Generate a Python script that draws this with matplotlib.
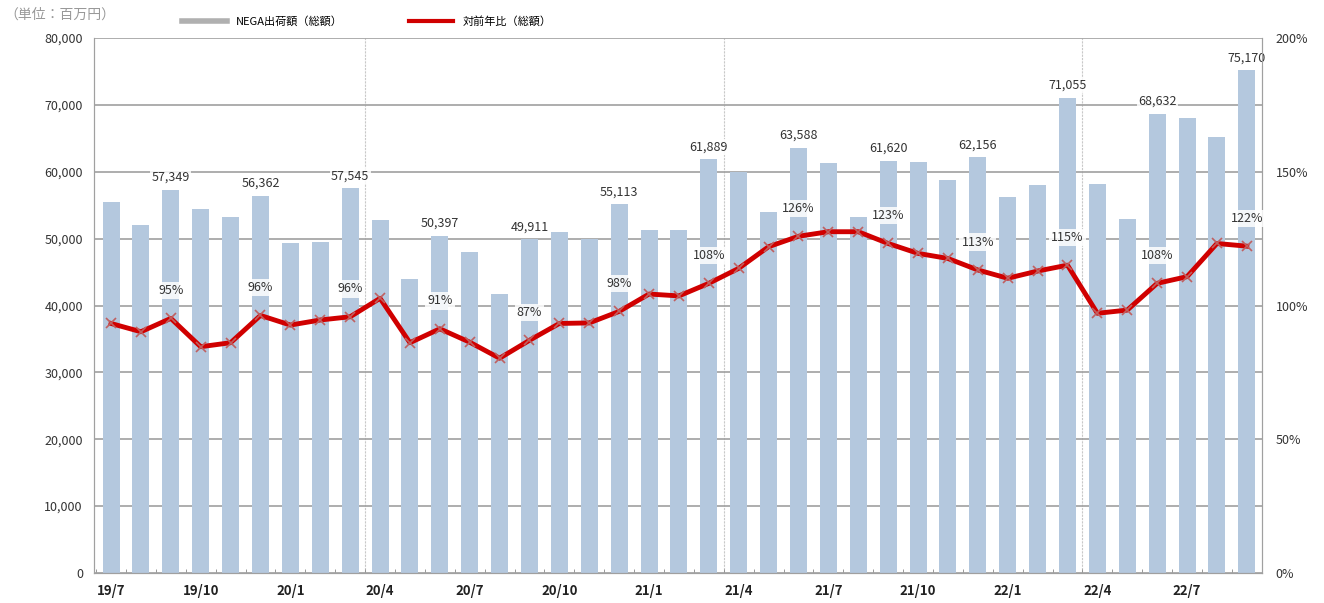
import numpy as np
import matplotlib.pyplot as plt
from matplotlib.lines import Line2D

plt.rcParams['font.family'] = ['Noto Sans CJK JP', 'DejaVu Sans']

# months 19/7 .. 22/9
months = ['19/7', '19/8', '19/9', '19/10', '19/11', '19/12',
          '20/1', '20/2', '20/3', '20/4', '20/5', '20/6',
          '20/7', '20/8', '20/9', '20/10', '20/11', '20/12',
          '21/1', '21/2', '21/3', '21/4', '21/5', '21/6',
          '21/7', '21/8', '21/9', '21/10', '21/11', '21/12',
          '22/1', '22/2', '22/3', '22/4', '22/5', '22/6',
          '22/7', '22/8', '22/9']

# shipments (million yen)
shipments = [55500, 52000, 57349, 54500, 53300, 56362,
             49400, 49500, 57545, 52800, 44000, 50397,
             48000, 41800, 49911, 51000, 49900, 55113,
             51300, 51300, 61889, 60000, 54000, 63588,
             61300, 53300, 61620, 61500, 58800, 62156,
             56250, 58000, 71055, 58250, 53000, 68632,
             68000, 65200, 75170]

# year-on-year ratio (%)
yoy = [93.3, 90.2, 95.2, 84.6, 86.1, 96.3,
       92.7, 94.6, 95.8, 102.7, 86.1, 91.3,
       86.3, 80.3, 87.0, 93.3, 93.5, 97.8,
       104.3, 103.6, 108.3, 113.9, 122.0, 125.9,
       127.6, 127.6, 123.2, 119.5, 117.6, 113.3,
       110.2, 112.9, 115.1, 97.1, 98.3, 108.3,
       110.8, 123.2, 122.2]

labelled = list(range(2, 39, 3))
tick_idx = list(range(0, 39, 3))
fy_bounds = [8.5, 20.5, 32.5]

x = np.arange(len(months))

fig = plt.figure(figsize=(13.24, 6.03), dpi=100)
ax = fig.add_axes([0.071, 0.0498, 0.882, 0.887])
ax2 = ax.twinx()

ax.set_ylim(0, 80000)
ax.set_yticks(np.arange(0, 80001, 10000))
ax.set_yticklabels([f'{v:,}' for v in range(0, 80001, 10000)], fontsize=9, color='#333333')
ax.grid(axis='y', color='#a0a0a0', linewidth=1.2)
ax.set_axisbelow(True)
for b in fy_bounds:
    ax.axvline(b, color='#c8c8c8', linewidth=0.8, linestyle=(0, (2, 1)), zorder=0)

ax.bar(x, shipments, width=0.57, color='#b4c8de', zorder=2)
ax.set_xlim(-0.57, 38.5)
ax.set_xticks(tick_idx)
ax.set_xticklabels([months[i] for i in tick_idx], fontsize=9.5, fontweight='bold', color='#222222')
ax.set_xticks(np.arange(-0.5, 38.6, 1), minor=True)
ax.tick_params(axis='x', which='major', length=0, pad=8)
ax.tick_params(axis='x', which='minor', length=3, direction='in', color='#888888')
ax.tick_params(axis='y', length=0, pad=8)

for i in labelled:
    ax.text(x[i], shipments[i] + 900, f'{shipments[i]:,}', ha='center', va='bottom',
            fontsize=9, color='#333333', zorder=6,
            bbox=dict(facecolor='white', edgecolor='none', pad=1.0, alpha=0.85))

ax2.set_ylim(0, 200)
ax2.set_yticks(np.arange(0, 201, 50))
ax2.set_yticklabels([f'{v}%' for v in range(0, 201, 50)], fontsize=9, color='#333333')
ax2.tick_params(axis='y', length=0, pad=10)
ax2.plot(x, yoy, color='#d00000', linewidth=3.5, marker='x', markersize=7,
         markeredgecolor='#c06060', markeredgewidth=1.2, zorder=4)
for i in labelled:
    ax2.text(x[i], yoy[i] + 8, f'{yoy[i]:.0f}%', ha='center', va='bottom',
             fontsize=9, color='#333333', zorder=6,
             bbox=dict(facecolor='white', edgecolor='none', pad=1.5, alpha=0.85))

for a in (ax, ax2):
    a.spines['top'].set_visible(False)
    for s in ('left', 'right', 'bottom'):
        a.spines[s].set_color('#a0a0a0')
ax.patch.set_visible(False)
ax2.patch.set_visible(False)

fig.text(0.003, 0.975, '（単位：百万円）', fontsize=10, color='#999999', va='center')
handles = [Line2D([0], [0], color='#b0b0b0', linewidth=4),
           Line2D([0], [0], color='#d00000', linewidth=3)]
fig.legend(handles, ['NEGA出荷額（総額）', '対前年比（総額）'], loc='center left',
           bbox_to_anchor=(0.13, 0.965), ncol=2, frameon=False, fontsize=8,
           handlelength=4, columnspacing=6)

fig.savefig('out.png', dpi=100)
